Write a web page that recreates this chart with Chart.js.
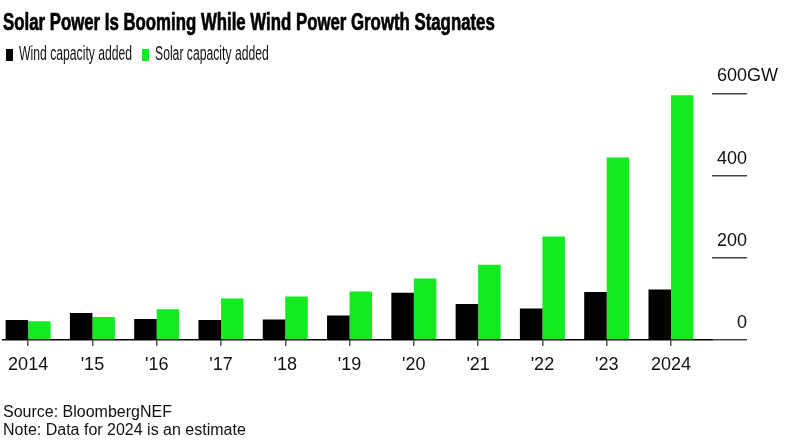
<!DOCTYPE html>
<html>
<head>
<meta charset="utf-8">
<script src="https://cdn.jsdelivr.net/npm/chart.js@4.4.1/dist/chart.umd.min.js"></script>
<style>
  html, body { margin: 0; padding: 0; background: #fff; }
  #wrap { position: relative; width: 786px; height: 443px; }
  #titulo {
    position: absolute; left: 3px; top: 9.7px;
    font: bold 24px 'Liberation Sans', Arial, sans-serif; line-height: 24px;
    color: #000; white-space: nowrap;
    -webkit-text-stroke: 0.7px #000;
    transform: scaleX(0.7); transform-origin: 0 0;
  }
  .caja  { position: absolute; top: 49.3px; width: 7.3px; height: 11.4px; }
  .texto {
    position: absolute; top: 44.4px;
    font: 19.5px 'Liberation Sans', Arial, sans-serif; line-height: 19.5px;
    color: #111; white-space: nowrap;
    transform: scaleX(0.625); transform-origin: 0 0;
  }
</style>
</head>
<body>
<div id="wrap">
  <canvas id="graficaEnergia"></canvas>
  <div id="titulo">Solar Power Is Booming While Wind Power Growth Stagnates</div>
  <div id="leyenda"></div>
</div>
<script>
/* ── Datos (GW añadidos por año, BloombergNEF) ── */
const CATEGORIAS = ['2014', "'15", "'16", "'17", "'18", "'19", "'20", "'21", "'22", "'23", '2024'];
const EOLICA     = [49, 66, 51, 49, 50, 60, 115, 88, 77, 117, 123];
const SOLAR      = [46, 56, 75, 101, 106, 118, 150, 183, 252, 444, 595];
const Y_TICKS    = [0, 200, 400, 600];
const Y_UNIDAD   = 'GW';

/* ── Estilo ── */
const SANS   = "'Liberation Sans', Arial, sans-serif";
const NEGRO  = '#000000';
const VERDE  = '#13EA22';
const TICK_Y = 35;
const LEYENDA_X = [6, 142];   // x de cada caja de la leyenda

/* unidad "GW" pegada a la etiqueta superior del eje */
const unidadPlugin = {
  id: 'unidad',
  afterDraw(chart) {
    const s = chart.scales.y;
    const top = Y_TICKS[Y_TICKS.length - 1];
    const ctx = chart.ctx;
    ctx.save();
    ctx.font = '18px ' + SANS;
    ctx.fillStyle = '#111';
    ctx.textAlign = 'left';
    ctx.textBaseline = 'middle';
    ctx.fillText(Y_UNIDAD, s.right, s.getPixelForValue(top) + s.options.ticks.labelOffset);
    ctx.restore();
  }
};

(function () {
  const canvas = document.getElementById('graficaEnergia');
  if (!canvas) return;

  const chart = new Chart(canvas, {
    type: 'bar',
    data: {
      datasets: [
        {
          label: 'Wind capacity added',
          data: EOLICA.map((v, i) => ({ x: i, y: v })),
          backgroundColor: NEGRO,
          borderWidth: 0,
        },
        {
          label: 'Solar capacity added',
          data: SOLAR.map((v, i) => ({ x: i, y: v })),
          backgroundColor: VERDE,
          borderWidth: 0,
        }
      ]
    },
    plugins: [unidadPlugin],
    options: {
      responsive: true,
      maintainAspectRatio: false,
      animation: false,
      categoryPercentage: 0.7,
      barPercentage: 1,
      layout: { padding: { left: 3, right: 39, top: 93.3, bottom: 0 } },
      plugins: {
        title:  { display: false },
        legend: { display: false },
        subtitle: {
          display: true,
          position: 'bottom',
          align: 'start',
          text: ['Source: BloombergNEF', 'Note: Data for 2024 is an estimate'],
          color: '#111',
          font: { family: SANS, size: 16, lineHeight: 1.1 },
          padding: { top: 20.1, bottom: 4 }
        },
        tooltip: { enabled: false }
      },
      scales: {
        x: {
          type: 'linear',
          offset: false,
          min: -0.389,
          max: 10.638,
          afterBuildTicks: axis => { axis.ticks = CATEGORIAS.map((c, i) => ({ value: i })); },
          grid:   { display: true, offset: false, drawOnChartArea: false, drawTicks: true, tickLength: 6, color: '#555', lineWidth: 1.5 },
          border: { display: true, color: NEGRO, width: 1.5 },
          ticks: {
            autoSkip: false,
            maxRotation: 0,
            minRotation: 0,
            padding: 8,
            color: '#111',
            font: { family: SANS, size: 18 },
            callback: v => CATEGORIAS[v]
          }
        },
        y: {
          position: 'right',
          min: 0,
          max: Y_TICKS[Y_TICKS.length - 1],
          afterBuildTicks: axis => { axis.ticks = Y_TICKS.map(v => ({ value: v })); },
          afterFit: axis => { axis.width = TICK_Y; },
          grid:   { drawOnChartArea: false, drawTicks: true, tickLength: TICK_Y, color: '#444', lineWidth: 1.5 },
          border: { display: false },
          ticks: {
            crossAlign: 'far',
            padding: 0,
            labelOffset: -17,
            color: '#111',
            font: { family: SANS, size: 18 }
          }
        }
      }
    }
  });

  /* ── Leyenda HTML a partir de los datasets ── */
  const leyenda = document.getElementById('leyenda');
  chart.data.datasets.forEach((ds, i) => {
    const caja = document.createElement('div');
    caja.className = 'caja';
    caja.style.left = LEYENDA_X[i] + 'px';
    caja.style.background = ds.backgroundColor;
    const texto = document.createElement('div');
    texto.className = 'texto';
    texto.style.left = (LEYENDA_X[i] + 13) + 'px';
    texto.textContent = ds.label;
    leyenda.appendChild(caja);
    leyenda.appendChild(texto);
  });
})();
</script>
</body>
</html>
